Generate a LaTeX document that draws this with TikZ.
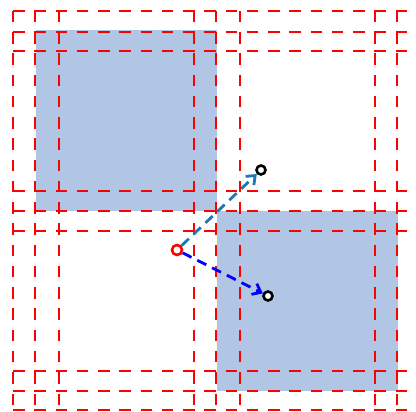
\documentclass[tikz,border=0pt]{standalone}
\usetikzlibrary{arrows.meta}
\definecolor{cellblue}{RGB}{176,198,228}
\definecolor{tabblue}{RGB}{31,119,180}
\begin{document}
\begin{tikzpicture}[x=1pt,y=-1pt,
  gridline/.style={red, line width=2.9pt, dash pattern=on 11.5pt off 9.75pt},
  pt/.style={circle, draw, fill=white, line width=2.6pt, minimum size=9pt, inner sep=0pt},
  flow/.style={line width=2.8pt, dash pattern=on 10pt off 6.5pt, -{Straight Barb[length=7.5pt,width=12pt]}}]
\useasboundingbox (0,0) rectangle (416,412);
\begin{scope}
\clip (0,0) rectangle (416,412);
\fill[cellblue] (36,30) rectangle (217,211);
\fill[cellblue] (217,211) rectangle (398,391);
\foreach \x in {13,35,59,194,216,240,375,397,421} \draw[gridline] (\x,11) -- (\x,430);
\foreach \y in {11,32,51,191,211,231,371,391,410} \draw[gridline] (13,\y) -- (430,\y);
\end{scope}
\node[pt, draw=red, minimum size=10pt] (src) at (177,250) {};
\node[pt, draw=black] (a) at (261,170) {};
\node[pt, draw=black] (b) at (268,296) {};
\draw[flow, tabblue] (src) -- (a);
\draw[flow, blue] (src) -- (b);
\end{tikzpicture}
\end{document}
